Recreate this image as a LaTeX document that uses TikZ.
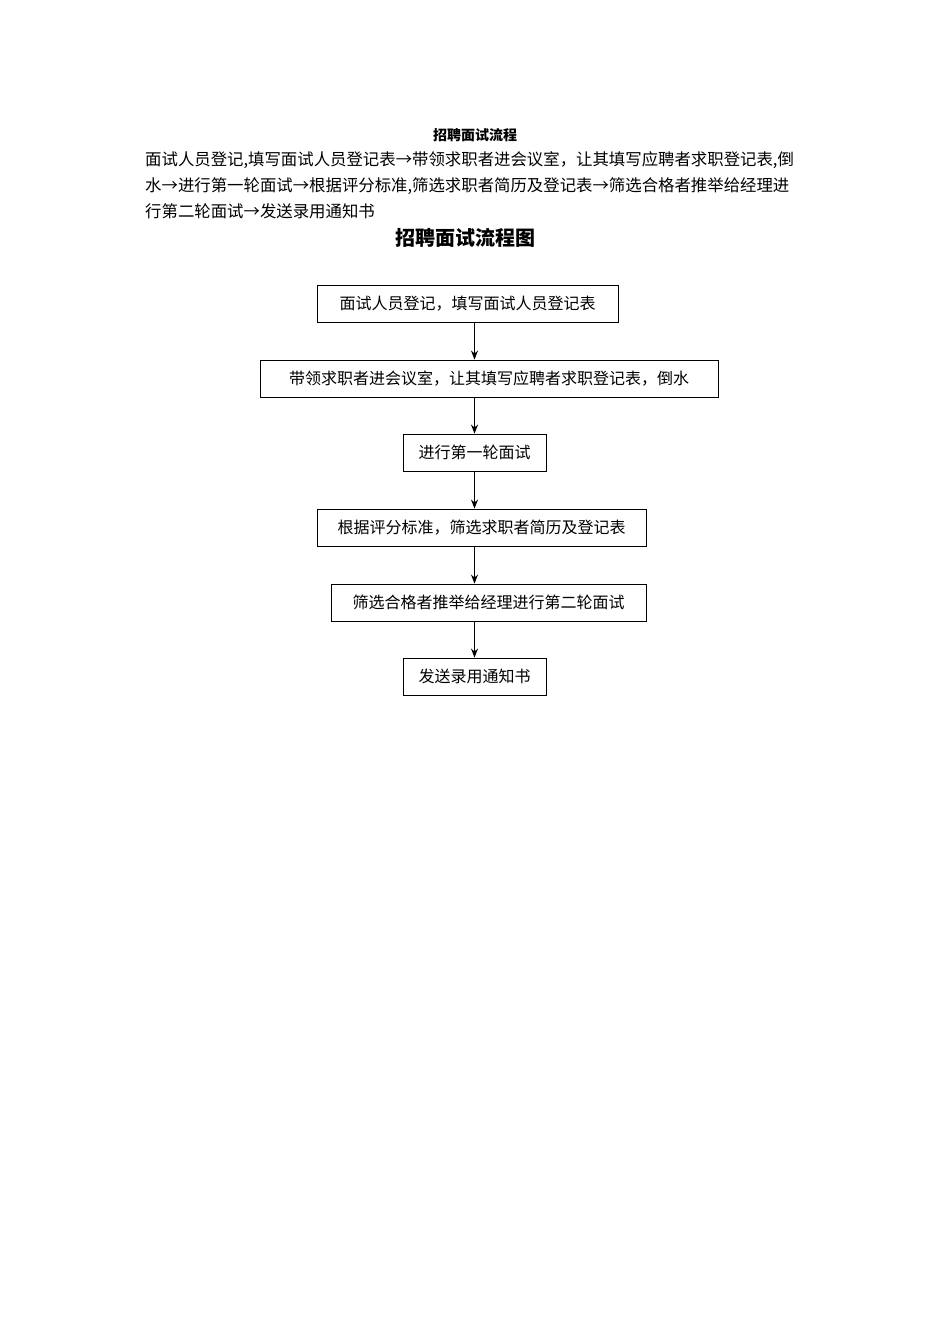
\documentclass[tikz,border=0pt]{standalone}
\usepackage{fontspec}
\setmainfont{Noto Sans CJK SC}
\usetikzlibrary{arrows.meta}
\begin{document}
\begin{tikzpicture}[x=1pt,y=-1pt,
  stepbox/.style={draw,line width=0.9pt,minimum height=37pt,inner sep=0pt,font=\fontsize{16}{16}\selectfont},
  arr/.style={-{Stealth[length=9pt,width=7pt]},line width=0.9pt},
  para/.style={anchor=west,inner sep=0pt,font=\fontsize{16.4}{16}\selectfont}]
\useasboundingbox (0,0) rectangle (950,1344);
\node[font=\bfseries\fontsize{14}{14}\selectfont] (t1) at (475,135) {招聘面试流程};
\node[para] (p1) at (145,160) {面试人员登记,填写面试人员登记表→带领求职者进会议室，让其填写应聘者求职登记表,倒};
\node[para] (p2) at (145,186) {水→进行第一轮面试→根据评分标准,筛选求职者简历及登记表→筛选合格者推举给经理进};
\node[para] (p3) at (145,211) {行第二轮面试→发送录用通知书};
\node[font=\bfseries\fontsize{20}{20}\selectfont] (t2) at (465,238) {招聘面试流程图};
\node[stepbox,minimum width=301pt] (b1) at (467.5,304) {面试人员登记，填写面试人员登记表};
\node[stepbox,minimum width=458pt] (b2) at (489,378.5) {带领求职者进会议室，让其填写应聘者求职登记表，倒水};
\node[stepbox,minimum width=143pt] (b3) at (474.5,452.5) {进行第一轮面试};
\node[stepbox,minimum width=329pt] (b4) at (481.5,527.5) {根据评分标准，筛选求职者简历及登记表};
\node[stepbox,minimum width=315pt] (b5) at (488.5,602.5) {筛选合格者推举给经理进行第二轮面试};
\node[stepbox,minimum width=143pt] (b6) at (474.5,676.5) {发送录用通知书};
\draw[arr] (b1.south -| b3.north) -- (b2.north -| b3.north);
\draw[arr] (b2.south -| b3.north) -- (b3.north);
\draw[arr] (b3.south) -- (b4.north -| b3.south);
\draw[arr] (b4.south -| b3.south) -- (b5.north -| b3.south);
\draw[arr] (b5.south -| b3.south) -- (b6.north);
\end{tikzpicture}
\end{document}
